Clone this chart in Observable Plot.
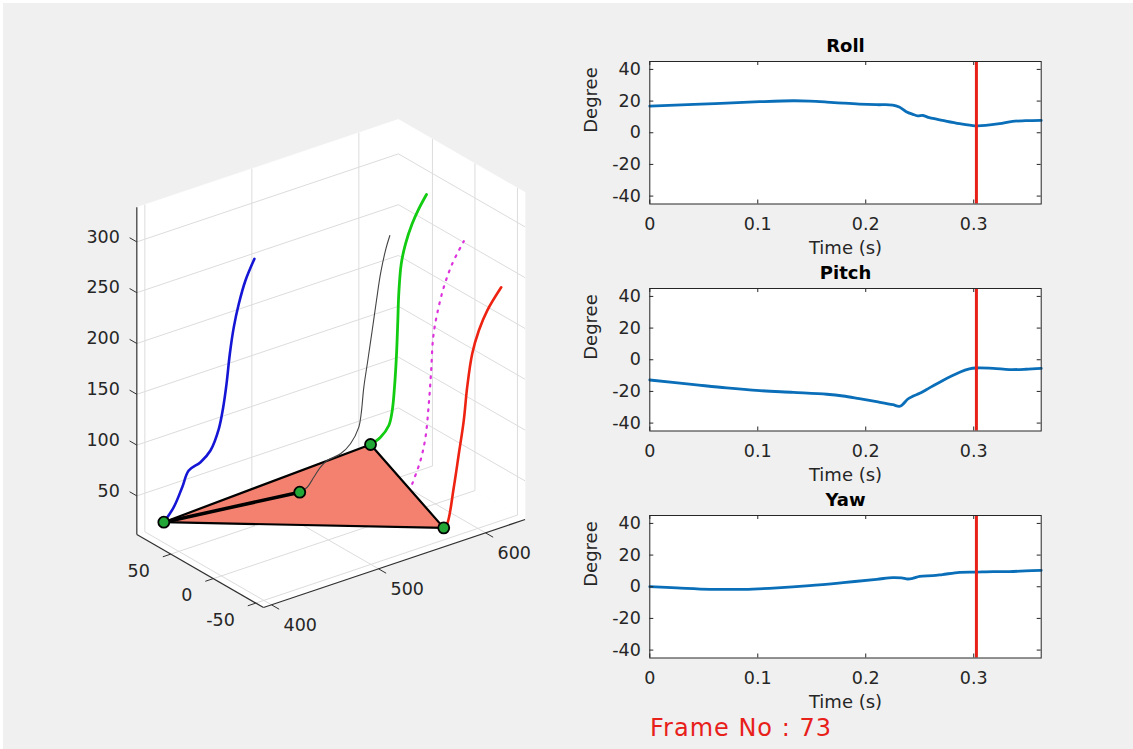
<!DOCTYPE html>
<html><head><meta charset="utf-8">
<script src="https://cdn.jsdelivr.net/npm/d3@7"></script>
<script src="https://cdn.jsdelivr.net/npm/@observablehq/plot@0.6"></script>
<style>
html,body{margin:0;padding:0;background:#fff;}
#fig{position:relative;width:1133px;height:749px;overflow:hidden;background:#fff;}
#bg{position:absolute;left:3px;top:3px;right:0;bottom:0;background:#f0f0f0;}
.panel{position:absolute;}
#frameNo{position:absolute;left:650px;top:716px;font-family:"DejaVu Sans";font-size:24px;line-height:24px;letter-spacing:1px;color:#e8201a;white-space:nowrap;}
</style></head><body>
<div id="fig"><div id="bg"></div><div id="frameNo"></div></div>
<script>
// ---------------- data: attitude time series ----------------
const rollT  = [0,0.041,0.071,0.102,0.133,0.148,0.164,0.179,0.194,0.21,0.225,0.231,0.2375,0.2437,0.248,0.253,0.259,0.271,0.287,0.3015,0.311,0.324,0.336,0.348,0.3625];
const rollV  = [16.8,17.9,18.7,19.6,20.2,20.0,19.4,18.7,18.1,17.7,17.5,16.2,13.3,11.6,10.7,10.9,9.5,7.8,5.7,4.4,4.6,5.7,7.2,7.6,7.8];
const pitchT = [0,0.041,0.071,0.102,0.133,0.164,0.179,0.194,0.21,0.225,0.231,0.234,0.239,0.244,0.25,0.256,0.271,0.287,0.296,0.302,0.318,0.333,0.348,0.3625];
const pitchV = [-12.8,-15.7,-17.8,-19.5,-20.6,-21.8,-22.9,-24.6,-26.5,-28.4,-29.4,-28.4,-24.8,-22.9,-21.2,-18.9,-13.2,-7.9,-5.8,-5.2,-5.4,-6.2,-6.0,-5.4];
const yawT   = [0,0.025,0.056,0.087,0.118,0.148,0.179,0.21,0.225,0.233,0.239,0.244,0.25,0.262,0.271,0.287,0.3015,0.318,0.333,0.348,0.3625];
const yawV   = [0.1,-0.7,-1.6,-1.6,-0.7,0.7,2.6,4.7,5.8,5.6,4.9,5.4,6.6,7.0,7.7,9.1,9.3,9.6,9.6,10.0,10.4];
const timeDomain = [0, 0.3625];
const degDomain = [-45, 45];
const timeTicks = [0, 0.1, 0.2, 0.3];
const degTicks = [-40, -20, 0, 20, 40];
const frameTime = 0.3025;
const frameNo = 73;

// ---------------- data: 3D marker trajectories ----------------
const xLim = [392.5, 637], yLim = [-59, 90], zLim = [12, 334];
const xTicks3 = [400, 500, 600], yTicks3 = [-50, 0, 50], zTicks3 = [50, 100, 150, 200, 250, 300];
const blueDepth = 60;
const blueX = [393.9,403.2,411.1,417.2,428.2,437.5,445.3,449.4,452.5,455.6,459.3,464.0,470.2,478.6];
const blueZ = [38.1,49.6,66.4,80.7,85.0,93.2,111.8,131.6,153.5,182.0,206.9,228.2,248.9,267.3];
const greenDepth = 4;
const greenX = [542.6,551.9,559.7,562.9,565.0,566.9,568.1,569.0,571.3,575.3,581.5,587.7,594.9];
const greenZ = [88.9,92.8,101.5,115.2,137.3,169.5,201.9,227.9,256.5,274.8,292.3,304.8,316.4];
const redDepth = -45;
const redX = [572.1,575.3,581.5,586.2,590.8,594.0,598.7,604.9,612.7,625.8];
const redZ = [20.0,22.9,56.7,87.9,119.0,150.7,181.9,202.6,219.5,237.8];
const blackDepth = 30;
const blackX = [497.1,504.1,510.2,516.5,522.8,535.2,544.5,552.3,554.5,557.0,560.7,564.8,568.8,572.6,577.2,581.3];
const blackZ = [45.5,47.9,55.6,63.3,67.6,69.8,76.4,90.0,102.4,127.7,152.6,180.7,208.8,233.8,255.0,268.3];
const magentaDepth = -20;
const magentaX = [562.5,570.2,574.9,578.0,580.2,582.1,585.8,592.0,599.9,610.7];
const magentaZ = [54.7,74.9,96.2,128.0,159.9,192.0,213.8,237.8,258.0,276.4];
// current-frame markers (x, y, z)
const markerA = [393.9, 60, 38.1];
const markerB = [542.6, 4, 88.9];
const markerC = [572.1, -45, 20.0];
const markerD = [497.1, 30, 45.5];

// ---------------- 3D view (orthographic projection) ----------------
const view = {o: [220.85, 587.6], x0: 400, ex: [1.07, -0.36], ey: [-0.85, -0.49], ez: [0, -1.016]};
function proj(p) {
  const dx = p[0] - view.x0, y = p[1], z = p[2];
  return {u: view.o[0] + view.ex[0]*dx + view.ey[0]*y + view.ez[0]*z,
          v: view.o[1] + view.ex[1]*dx + view.ey[1]*y + view.ez[1]*z};
}
function seg(a, b, extra) { const p = proj(a), q = proj(b); return Object.assign({x1:p.u, y1:p.v, x2:q.u, y2:q.v}, extra||{}); }
const [x0,x1] = xLim, [y0,y1] = yLim, [z0,z1] = zLim;

const panes = [];
[["wy", [[x0,y1,z0],[x1,y1,z0],[x1,y1,z1],[x0,y1,z1],[x0,y1,z0]]],
 ["wx", [[x1,y0,z0],[x1,y1,z0],[x1,y1,z1],[x1,y0,z1],[x1,y0,z0]]],
 ["fl", [[x0,y0,z0],[x1,y0,z0],[x1,y1,z0],[x0,y1,z0],[x0,y0,z0]]]]
 .forEach(([k, pts]) => pts.forEach(p => panes.push(Object.assign({pane:k}, proj(p)))));

const grid = [];
xTicks3.forEach(x => { grid.push(seg([x,y1,z0],[x,y1,z1])); grid.push(seg([x,y0,z0],[x,y1,z0])); });
yTicks3.forEach(y => { grid.push(seg([x1,y,z0],[x1,y,z1])); grid.push(seg([x0,y,z0],[x1,y,z0])); });
zTicks3.forEach(z => { grid.push(seg([x0,y1,z],[x1,y1,z])); grid.push(seg([x1,y0,z],[x1,y1,z])); });

const axes3 = [seg([x0,y1,z0],[x0,y1,z1]), seg([x0,y0,z0],[x1,y0,z0]), seg([x0,y0,z0],[x0,y1,z0])];
const ticks3 = [];
zTicks3.forEach(z => ticks3.push(seg([x0,y1,z],[x0,y1+8.5,z])));
xTicks3.forEach(x => ticks3.push(seg([x,y0,z0],[x,y0-9,z0])));
yTicks3.forEach(y => ticks3.push(seg([x0,y,z0],[x0-7.5,y,z0])));
const zLab = zTicks3.map(z => Object.assign({t:String(z)}, proj([x0,y1,z])));
const xLab = xTicks3.map(x => Object.assign({t:String(x)}, proj([x,y0,z0])));
const yLab = yTicks3.map(y => Object.assign({t:String(y)}, proj([x0,y,z0])));

function track(X, depth, Z) { return X.map((x,i) => proj([x, depth, Z[i]])); }
const tri = [markerA, markerB, markerC, markerA].map(proj);
const head = [markerA, markerD].map(proj);
const markers = [markerA, markerB, markerC, markerD].map(proj);

const left = Plot.plot({
  width: 570, height: 749, margin: 0,
  x: {domain: [0, 570], range: [0, 570], axis: null},
  y: {domain: [0, 749], range: [0, 749], axis: null},
  style: {fontFamily: "DejaVu Sans", fontSize: "17.5px", background: "transparent", color: "#262626"},
  marks: [
    Plot.line(panes, {x: "u", y: "v", z: "pane", fill: "white", stroke: "white", strokeWidth: 0.5}),
    Plot.link(grid, {x1: "x1", y1: "y1", x2: "x2", y2: "y2", stroke: "#dcdcdc", strokeWidth: 1}),
    Plot.link(axes3, {x1: "x1", y1: "y1", x2: "x2", y2: "y2", stroke: "#303030", strokeWidth: 1.2}),
    Plot.link(ticks3, {x1: "x1", y1: "y1", x2: "x2", y2: "y2", stroke: "#303030", strokeWidth: 1}),
    Plot.text(zLab, {x: "u", y: "v", text: "t", textAnchor: "end", lineAnchor: "middle", dx: -17, dy: -5}),
    Plot.text(xLab, {x: "u", y: "v", text: "t", textAnchor: "start", lineAnchor: "middle", dx: 12, dy: 21}),
    Plot.text(yLab, {x: "u", y: "v", text: "t", textAnchor: "end", lineAnchor: "middle", dx: -21, dy: 17}),
    Plot.line(tri, {x: "u", y: "v", fill: "#f4816f", stroke: "black", strokeWidth: 2.2}),
    Plot.line(track(magentaX, magentaDepth, magentaZ), {x: "u", y: "v", stroke: "#dd33dd", strokeWidth: 2.2, strokeDasharray: "1.8,6.5", curve: "catmull-rom"}),
    Plot.line(track(redX, redDepth, redZ), {x: "u", y: "v", stroke: "#ee2211", strokeWidth: 2.6, curve: "catmull-rom"}),
    Plot.line(track(blackX, blackDepth, blackZ), {x: "u", y: "v", stroke: "#444", strokeWidth: 1.1, curve: "catmull-rom"}),
    Plot.line(track(greenX, greenDepth, greenZ), {x: "u", y: "v", stroke: "#12cc12", strokeWidth: 2.8, curve: "catmull-rom"}),
    Plot.line(track(blueX, blueDepth, blueZ), {x: "u", y: "v", stroke: "#1515d5", strokeWidth: 2.6, curve: "catmull-rom"}),
    Plot.line(head, {x: "u", y: "v", stroke: "black", strokeWidth: 3.5}),
    Plot.dot(markers, {x: "u", y: "v", r: 5.5, fill: "#22a636", stroke: "black", strokeWidth: 1.8})
  ]
});
left.classList.add("panel");
left.style.left = "0px"; left.style.top = "0px";
document.getElementById("fig").appendChild(left);

// ---------------- right-hand subplots ----------------
function subplot(title, T, V, boxTop) {
  const W = 500, H = 230, ml = 89.3, mr = 19.3, mt = 31, ph = 142.5;
  const mb = H - mt - ph, pw = W - ml - mr;
  const data = T.map((t, i) => ({t, v: V[i]}));
  const svg = Plot.plot({
    width: W, height: H, marginLeft: ml, marginRight: mr, marginTop: mt, marginBottom: mb,
    x: {domain: timeDomain, axis: null},
    y: {domain: degDomain, axis: null},
    style: {fontFamily: "DejaVu Sans", fontSize: "17.5px", background: "transparent", color: "#262626"},
    marks: [
      Plot.frame({fill: "white", stroke: null}),
      Plot.line(data, {x: "t", y: "v", stroke: "#0a6fb8", strokeWidth: 2.8, curve: "catmull-rom"}),
      Plot.ruleX([frameTime], {stroke: "#e8201a", strokeWidth: 3}),
      Plot.ruleX(timeTicks, {stroke: "#262626", insetTop: ph - 4}),
      Plot.ruleX(timeTicks, {stroke: "#262626", insetBottom: ph - 4}),
      Plot.ruleY(degTicks, {stroke: "#262626", insetRight: pw - 4}),
      Plot.ruleY(degTicks, {stroke: "#262626", insetLeft: pw - 4}),
      Plot.frame({stroke: "#262626", strokeWidth: 1}),
      Plot.text(timeTicks, {x: d => d, frameAnchor: "bottom", lineAnchor: "middle", text: d => String(d), dy: 20}),
      Plot.text(degTicks, {y: d => d, frameAnchor: "left", lineAnchor: "middle", text: d => String(d), textAnchor: "end", dx: -9}),
      Plot.text([title], {frameAnchor: "top", lineAnchor: "middle", dy: -15, fontWeight: "bold", fontSize: 18, fill: "black"}),
      Plot.text(["Time (s)"], {frameAnchor: "bottom", lineAnchor: "middle", dy: 44, fontSize: 18}),
      Plot.text(["Degree"], {frameAnchor: "left", lineAnchor: "middle", dx: -59, rotate: -90, fontSize: 18})
    ]
  });
  svg.classList.add("panel");
  svg.style.left = "560px";
  svg.style.top = (boxTop - mt) + "px";
  document.getElementById("fig").appendChild(svg);
}
subplot("Roll", rollT, rollV, 60.7);
subplot("Pitch", pitchT, pitchV, 288.3);
subplot("Yaw", yawT, yawV, 515);

document.getElementById("frameNo").textContent = "Frame No : " + frameNo;
</script>
</body></html>
